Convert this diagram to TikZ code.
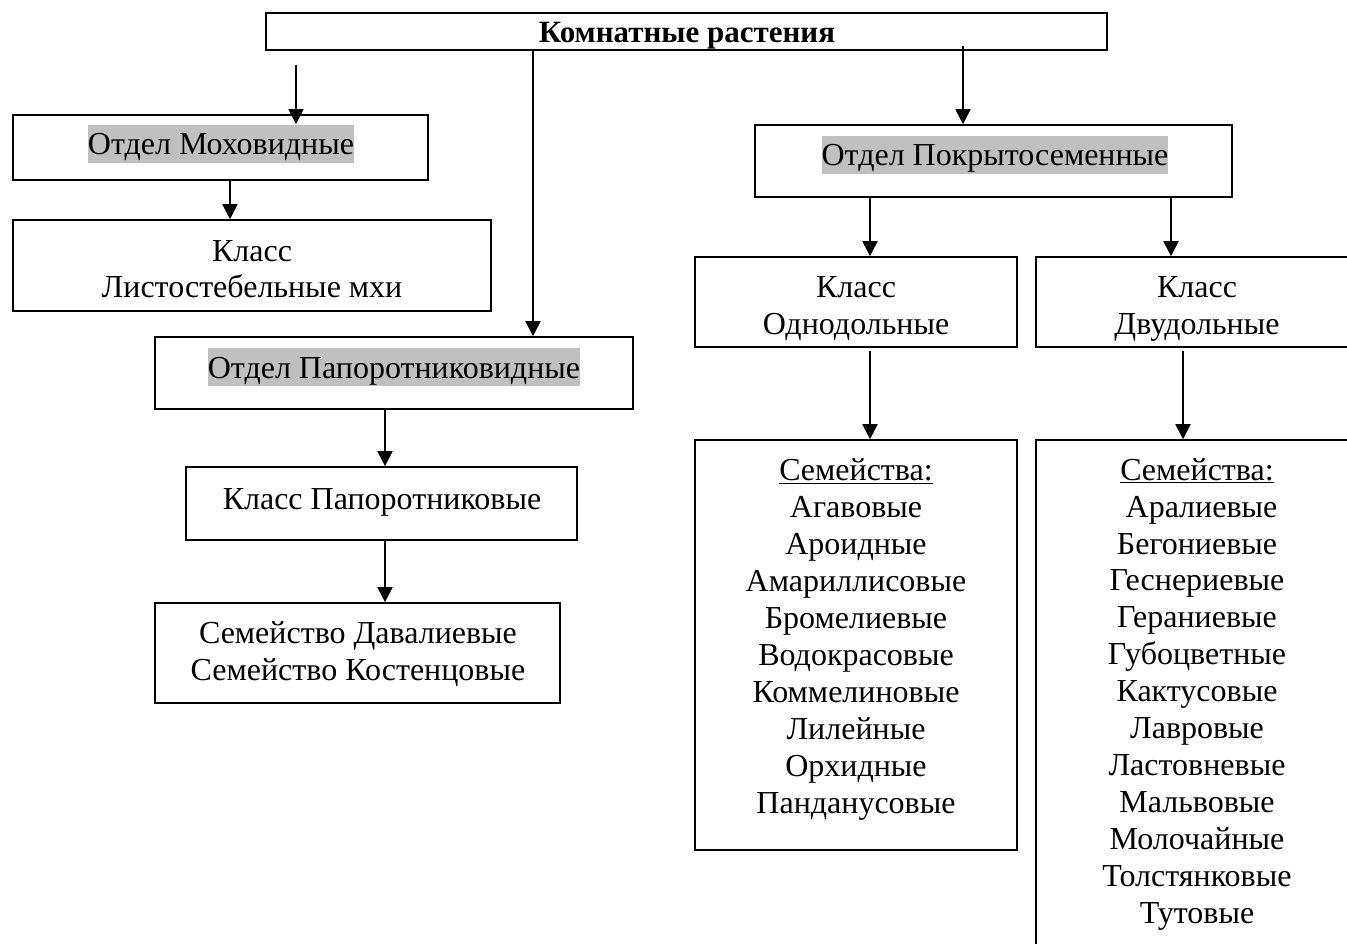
\documentclass[tikz,border=0pt]{standalone}
\usepackage{fontspec}
\setmainfont{Liberation Serif}
\usetikzlibrary{arrows.meta,calc}
\definecolor{hlgray}{RGB}{192,192,192}
\newcommand\hlt[1]{{\setlength\fboxsep{0pt}\colorbox{hlgray}{\rule[-8pt]{0pt}{38pt}#1}}}
\tikzset{
  box/.style={draw, line width=1.6pt, inner sep=0pt, minimum width=#1},
  txt/.style={inner sep=0pt, anchor=base, align=center, font=\fontsize{32}{36.9}\selectfont},
  arr/.style={line width=1.8pt, -{Triangle[length=15pt,width=15pt]}},
}
\begin{document}
\begin{tikzpicture}[x=1pt,y=-1pt]
\useasboundingbox (0,0) rectangle (1347,944);
\clip (0,0) rectangle (1347,944);
% boxes
\node[box=841, minimum height=37] (top) at (686.5,31.5) {};
\node[box=415, minimum height=65] (moss) at (220.5,147.5) {};
\node[box=478, minimum height=91] (mossk) at (252,265.5) {};
\node[box=478, minimum height=72] (fern) at (394,373) {};
\node[box=391, minimum height=73] (fernk) at (381.5,503.5) {};
\node[box=405, minimum height=100] (fernf) at (357.5,653) {};
\node[box=477, minimum height=72] (angio) at (993.5,161) {};
\node[box=322, minimum height=90] (mono) at (856,302) {};
\node[box=324, minimum height=90] (dico) at (1198,302) {};
\node[box=322, minimum height=410] (monof) at (856,645) {};
\node[box=324, minimum height=520] (dicof) at (1198,700) {};
% texts (anchor = baseline of the last line)
\node[txt, font=\fontsize{31}{36}\selectfont\bfseries] (topt) at (687,43) {Комнатные растения};
\node[txt] (mosst) at (221,155) {\hlt{Отдел Моховидные}};
\node[txt] (mosskt) at (252,298) {Класс\\Листостебельные мхи};
\node[txt] (fernt) at (394,378) {\hlt{Отдел Папоротниковидные}};
\node[txt] (fernkt) at (382,509) {Класс Папоротниковые};
\node[txt] (fernft) at (358,680) {Семейство Давалиевые\\Семейство Костенцовые};
\node[txt] (angiot) at (995,166) {\hlt{Отдел Покрытосеменные}};
\node[txt] (monot) at (856,334) {Класс\\Однодольные};
\node[txt] (dicot) at (1197,334) {Класс\\Двудольные};
\node[txt] (monoft) at (856,813) {\underline{Семейства:}\\Агавовые\\Ароидные\\Амариллисовые\\Бромелиевые\\Водокрасовые\\Коммелиновые\\Лилейные\\Орхидные\\Панданусовые};
\node[txt] (dicoft) at (1197,923) {\underline{Семейства:}\\\hspace*{9pt}Аралиевые\\Бегониевые\\Геснериевые\\Гераниевые\\Губоцветные\\Кактусовые\\Лавровые\\Ластовневые\\Мальвовые\\Молочайные\\Толстянковые\\Тутовые};
% connector coordinates
\coordinate (c1) at (296,65);
\coordinate (x2) at (533,0);
\coordinate (x3) at (963,0);
\coordinate (x4) at (230,0);
\coordinate (x5) at (385,0);
\coordinate (x6) at (870,0);
\coordinate (x7) at (1171,0);
\coordinate (x8) at (1183,0);
% connectors
\draw[arr, shorten >=-10pt] (c1) -- (moss.north -| c1);
\draw[arr] (top.south -| x2) -- (fern.north -| x2);
\draw[arr, shorten <=-5pt] (top.south -| x3) -- (angio.north -| x3);
\draw[arr] (moss.south -| x4) -- (mossk.north -| x4);
\draw[arr] (fern.south -| x5) -- (fernk.north -| x5);
\draw[arr] (fernk.south -| x5) -- (fernf.north -| x5);
\draw[arr] (angio.south -| x6) -- (mono.north -| x6);
\draw[arr] (angio.south -| x7) -- (dico.north -| x7);
\draw[arr, shorten <=3pt] (mono.south -| x6) -- (monof.north -| x6);
\draw[arr, shorten <=3pt] (dico.south -| x8) -- (dicof.north -| x8);
\end{tikzpicture}
\end{document}
